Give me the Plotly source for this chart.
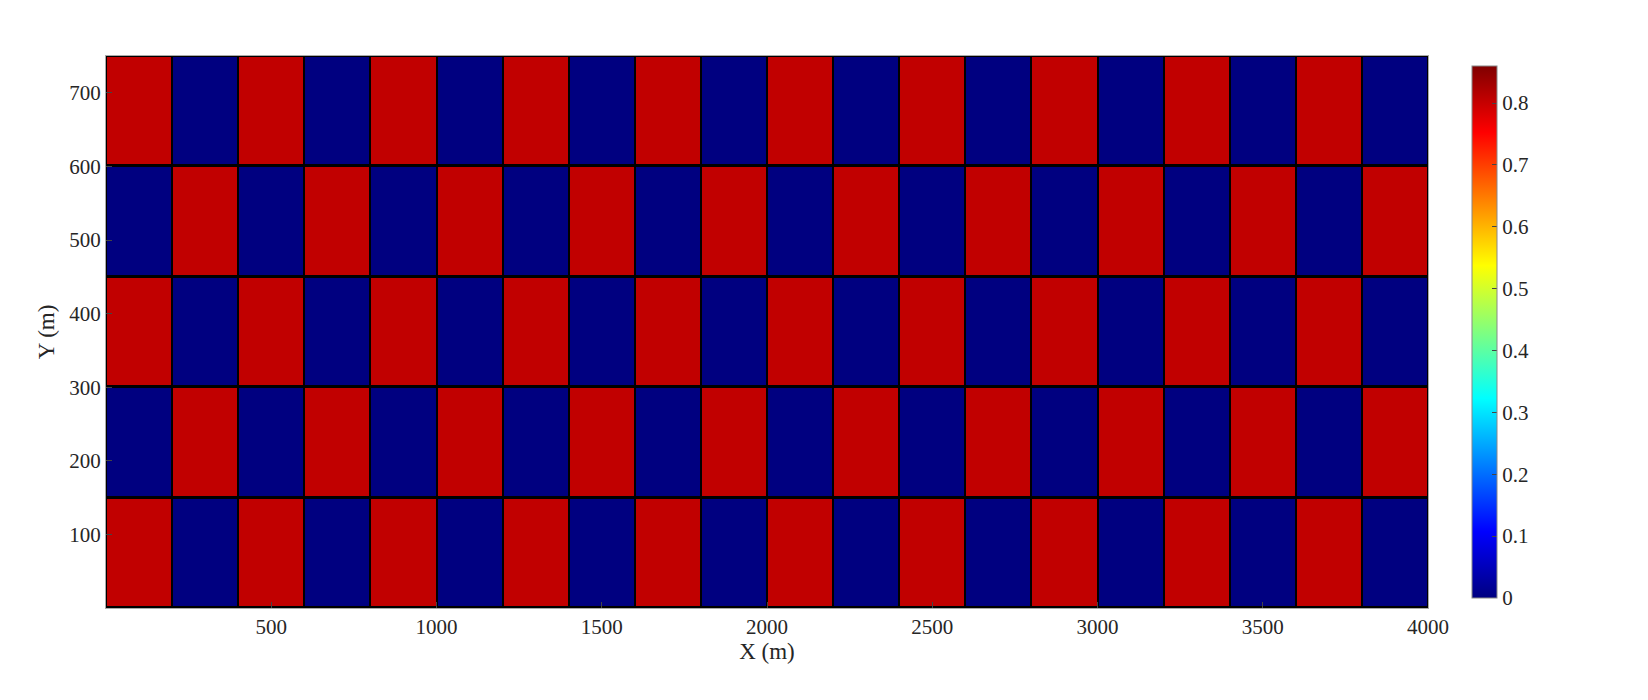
import numpy as np
import plotly.graph_objects as go

# Zellmittelpunkte (m)
x_centers = [100, 300, 500, 700, 900, 1100, 1300, 1500, 1700, 1900,
             2100, 2300, 2500, 2700, 2900, 3100, 3300, 3500, 3700, 3900]
y_centers = [75, 225, 375, 525, 675]
high_value = 0.805
low_value = 0.0

# Schachbrettmuster, unterste Zeile beginnt mit rot
z = [[high_value if (i + j) % 2 == 0 else low_value for i in range(len(x_centers))]
     for j in range(len(y_centers))]

x_ticks = [500, 1000, 1500, 2000, 2500, 3000, 3500, 4000]
y_ticks = [100, 200, 300, 400, 500, 600, 700]
cb_ticks = [0, 0.1, 0.2, 0.3, 0.4, 0.5, 0.6, 0.7, 0.8]

# MATLAB jet
jet = [[0.0, "rgb(0,0,128)"], [0.125, "rgb(0,0,255)"], [0.375, "rgb(0,255,255)"],
       [0.625, "rgb(255,255,0)"], [0.875, "rgb(255,0,0)"], [1.0, "rgb(128,0,0)"]]

font = dict(family="Liberation Serif, Times New Roman, serif", size=21, color="#262626")

fig = go.Figure(go.Heatmap(
    x=x_centers, y=y_centers, z=z,
    colorscale=jet, zmin=0, zmax=0.86,
    xgap=2, ygap=3,
    colorbar=dict(x=1.026, xanchor="left", thickness=25, len=1.0, y=0.5,
                  tickvals=cb_ticks, ticks="inside", ticklen=5,
                  outlinewidth=1, outlinecolor="#888", tickfont=font),
))

fig.update_xaxes(range=[0, 4000], tickvals=x_ticks, ticks="inside", ticklen=6,
                 showgrid=False, zeroline=False, mirror=True, showline=True,
                 linecolor="#aaa", title=dict(text="X (m)", font=dict(font, size=23), standoff=4),
                 tickfont=font)
fig.update_yaxes(range=[0, 750], tickvals=y_ticks, ticks="inside", ticklen=6,
                 showgrid=False, zeroline=False, mirror=True, showline=True,
                 linecolor="#aaa", title=dict(text="Y (m)", font=dict(font, size=23), standoff=8),
                 tickfont=font)

fig.update_layout(width=1648, height=700,
                  margin=dict(l=98, r=228, t=48, b=100, autoexpand=False),
                  plot_bgcolor="black", paper_bgcolor="white", font=font)

fig.write_html("out.html")
